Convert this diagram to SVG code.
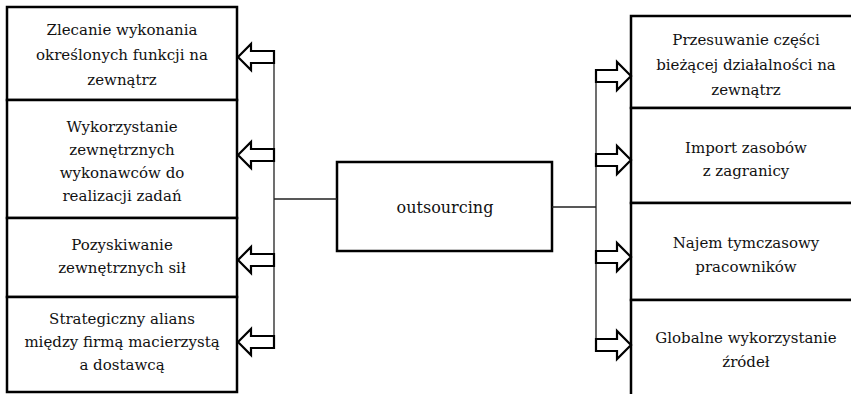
<svg xmlns="http://www.w3.org/2000/svg" width="851" height="394" viewBox="0 0 851 394">
  <defs>
    <!-- hollow block arrows, drawn with the tip at the origin -->
    <path id="arrow-left" d="M0 0 L13 -13 V-6 H36 V6 H13 V13 Z"/>
    <path id="arrow-right" d="M0 0 L-14 -14 V-6 H-35 V6 H-14 V14 Z"/>
  </defs>

  <rect x="0" y="0" width="851" height="394" fill="#ffffff"/>

  <!-- boxes: white fill, heavy black outline -->
  <g fill="#ffffff" stroke="#000000" stroke-width="2.5">
    <rect id="left-1-frame" x="7" y="7" width="230" height="93"/>
    <rect id="left-2-frame" x="7" y="100" width="230" height="118"/>
    <rect id="left-3-frame" x="7" y="218" width="230" height="79"/>
    <rect id="left-4-frame" x="7" y="297" width="230" height="95"/>
    <rect id="center-frame" x="337" y="162" width="215" height="89"/>
    <rect id="right-1-frame" x="631" y="16" width="232" height="92"/>
    <rect id="right-2-frame" x="631" y="108" width="232" height="95"/>
    <rect id="right-3-frame" x="631" y="203" width="232" height="97"/>
    <rect id="right-4-frame" x="631" y="300" width="232" height="110"/>
  </g>

  <g font-family="'DejaVu Serif', serif" font-size="15" fill="#111111" text-anchor="middle">
    <!-- left column of definitions -->
    <g id="left-1">
      <text x="122" y="35">Zlecanie wykonania</text>
      <text x="122" y="60">określonych funkcji na</text>
      <text x="122" y="85">zewnątrz</text>
    </g>
    <g id="left-2">
      <text x="122" y="132">Wykorzystanie</text>
      <text x="122" y="155">zewnętrznych</text>
      <text x="122" y="178">wykonawców do</text>
      <text x="122" y="201">realizacji zadań</text>
    </g>
    <g id="left-3">
      <text x="122" y="250">Pozyskiwanie</text>
      <text x="122" y="273">zewnętrznych sił</text>
    </g>
    <g id="left-4">
      <text x="122" y="324">Strategiczny alians</text>
      <text x="122" y="347">między firmą macierzystą</text>
      <text x="122" y="370">a dostawcą</text>
    </g>

    <!-- central term -->
    <g id="center">
      <text x="445" y="213" font-size="16">outsourcing</text>
    </g>

    <!-- right column of definitions (runs past the right edge) -->
    <g id="right-1">
      <text x="746" y="45">Przesuwanie części</text>
      <text x="746" y="70">bieżącej działalności na</text>
      <text x="746" y="95">zewnątrz</text>
    </g>
    <g id="right-2">
      <text x="746" y="153">Import zasobów</text>
      <text x="746" y="176">z zagranicy</text>
    </g>
    <g id="right-3">
      <text x="746" y="248">Najem tymczasowy</text>
      <text x="746" y="272">pracowników</text>
    </g>
    <g id="right-4">
      <text x="746" y="343">Globalne wykorzystanie</text>
      <text x="746" y="367">źródeł</text>
    </g>
  </g>

  <!-- connectors: trunk lines and block arrows -->
  <g id="connectors">
    <g fill="none" stroke="#222222" stroke-width="1.3">
      <path d="M274 52 V342 M274 199 H337"/>
      <path d="M596 72 V345 M552 207 H596"/>
    </g>
    <g fill="#ffffff" stroke="#000000" stroke-width="2.2">
      <use href="#arrow-left" x="238" y="57"/>
      <use href="#arrow-left" x="238" y="155"/>
      <use href="#arrow-left" x="238" y="260"/>
      <use href="#arrow-left" x="238" y="342"/>
      <use href="#arrow-right" x="631" y="76"/>
      <use href="#arrow-right" x="631" y="160"/>
      <use href="#arrow-right" x="631" y="257"/>
      <use href="#arrow-right" x="631" y="345"/>
    </g>
  </g>
</svg>
